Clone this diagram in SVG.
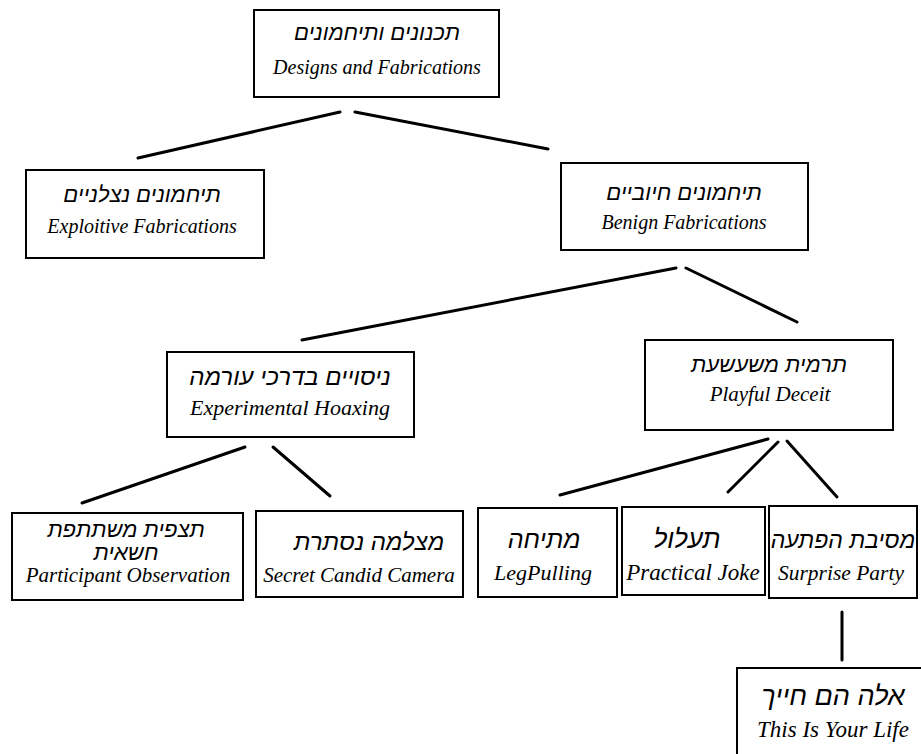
<svg xmlns="http://www.w3.org/2000/svg" width="921" height="754" viewBox="0 0 921 754">
<style>
.box{fill:#fff;stroke:#000;stroke-width:2}
.he{font-family:"Liberation Sans","DejaVu Sans",sans-serif;font-style:italic;font-size:22px;text-anchor:middle;fill:#000}
.en{font-family:"Liberation Serif",serif;font-style:italic;font-size:20px;text-anchor:middle;fill:#000}
.ln{stroke:#000;stroke-width:3;stroke-linecap:round;fill:none}
</style>
<rect width="921" height="754" fill="#fff"/>
<g id="connectors">
<line class="ln" x1="340" y1="112" x2="138" y2="158"/>
<line class="ln" x1="355" y1="112" x2="548" y2="149"/>
<line class="ln" x1="676" y1="268" x2="302" y2="340"/>
<line class="ln" x1="686" y1="268" x2="797" y2="322"/>
<line class="ln" x1="245" y1="447" x2="82" y2="503"/>
<line class="ln" x1="273" y1="447" x2="330" y2="496"/>
<line class="ln" x1="768" y1="439" x2="560" y2="495"/>
<line class="ln" x1="778" y1="442" x2="728" y2="492"/>
<line class="ln" x1="787" y1="441" x2="837" y2="497"/>
<line class="ln" x1="842" y1="612" x2="842" y2="660"/>
</g>
<g id="designs">
<rect class="box" x="254" y="10" width="245" height="87"/>
<text class="he" x="377" y="40">תכנונים ותיחמונים</text>
<text class="en" x="377" y="74">Designs and Fabrications</text>
</g>
<g id="exploitive">
<rect class="box" x="26" y="170" width="238" height="88"/>
<text class="he" x="142" y="202">תיחמונים נצלניים</text>
<text class="en" x="142" y="233">Exploitive Fabrications</text>
</g>
<g id="benign">
<rect class="box" x="561" y="163" width="247" height="87"/>
<text class="he" x="684" y="200">תיחמונים חיוביים</text>
<text class="en" x="684" y="229">Benign Fabrications</text>
</g>
<g id="experimental">
<rect class="box" x="167" y="352" width="247" height="85"/>
<text class="he" x="290" y="385" style="font-size:24px">ניסויים בדרכי עורמה</text>
<text class="en" x="290" y="415" style="font-size:22px">Experimental Hoaxing</text>
</g>
<g id="playful">
<rect class="box" x="645" y="340" width="248" height="90"/>
<text class="he" x="769" y="372">תרמית משעשעת</text>
<text class="en" x="770" y="401" style="font-size:21px">Playful Deceit</text>
</g>
<g id="participant">
<rect class="box" x="12" y="513" width="231" height="87"/>
<text class="he" x="126" y="537">תצפית משתתפת</text>
<text class="he" x="126" y="560">חשאית</text>
<text class="en" x="128" y="582" style="font-size:21px">Participant Observation</text>
</g>
<g id="secret">
<rect class="box" x="256" y="511" width="207" height="86"/>
<text class="he" x="369" y="550" style="font-size:24px">מצלמה נסתרת</text>
<text class="en" x="359" y="582" style="font-size:21px">Secret Candid Camera</text>
</g>
<g id="legpulling">
<rect class="box" x="478" y="508" width="139" height="89"/>
<text class="he" x="544" y="548" style="font-size:25px">מתיחה</text>
<text class="en" x="543" y="580" style="font-size:22px">LegPulling</text>
</g>
<g id="practical">
<rect class="box" x="622" y="507" width="143" height="88"/>
<text class="he" x="687" y="548" style="font-size:26px">תעלול</text>
<text class="en" x="693" y="580" style="font-size:23px">Practical Joke</text>
</g>
<g id="surprise">
<rect class="box" x="769" y="506" width="148" height="92"/>
<text class="he" x="843" y="548" style="font-size:23px">מסיבת הפתעה</text>
<text class="en" x="841" y="580" style="font-size:21.5px">Surprise Party</text>
</g>
<g id="yourlife">
<rect class="box" x="737" y="668" width="200" height="100"/>
<text class="he" x="833" y="705" style="font-size:27px">אלה הם חייך</text>
<text class="en" x="833" y="737" style="font-size:23px">This Is Your Life</text>
</g>
</svg>
